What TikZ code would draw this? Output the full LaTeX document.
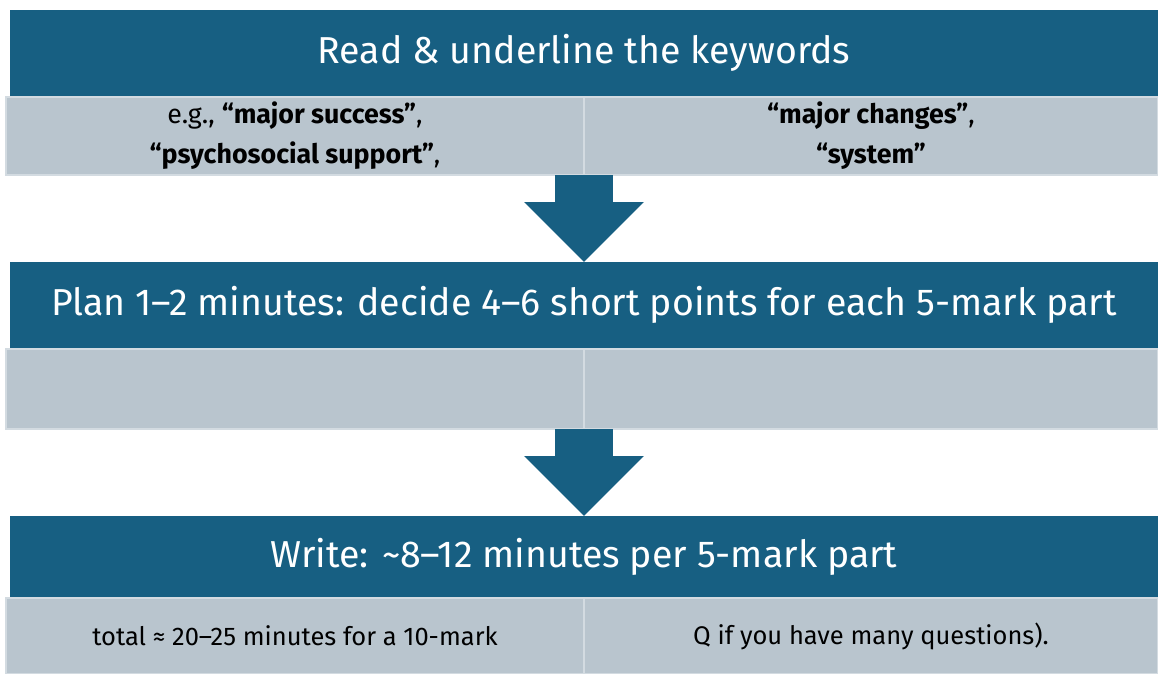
\documentclass[tikz,border=0pt]{standalone}
\usepackage{fontspec}
\setmainfont{Fira Sans}
\usetikzlibrary{arrows.meta}
\definecolor{headblue}{HTML}{175F82}
\definecolor{cellgrey}{HTML}{B9C5CE}
\definecolor{celledge}{HTML}{D3DBE1}
\tikzset{
  header/.style={fill=headblue, text=white, minimum width=1148pt,
    minimum height=86pt, inner sep=0pt, outer sep=0pt,
    font=\fontsize{37.5}{40}\selectfont},
  cell/.style={fill=cellgrey, draw=celledge, line width=1.5pt,
    minimum height=78pt, inner sep=0pt, outer sep=0pt, align=center,
    font=\fontsize{26.8}{40}\selectfont},
  cellL/.style={cell, minimum width=578pt},
  cellR/.style={cell, minimum width=574pt},
  blockarrow/.style={headblue, line width=58pt,
    -{Triangle[length=60pt,width=116pt]}}
}
\begin{document}
\begin{tikzpicture}[x=1pt,y=-1pt]
  \useasboundingbox (0,0) rectangle (1158,673);
  % step 1
  \node[header] (h1) at (584,53) {Read \& underline the keywords};
  \node[cellL] (r1a) at (295,136) {e.g., \textbf{“major success”},\\\textbf{“psychosocial support”},};
  \node[cellR] (r1b) at (871,136) {\textbf{“major changes”},\\\textbf{“system”}};
  % step 2
  \node[header] (h2) at (584,305) {Plan 1–2 minutes: decide 4–6 short points for each 5-mark part};
  \node[cellL, minimum height=80pt] (r2a) at (295,389) {};
  \node[cellR, minimum height=80pt] (r2b) at (871,389) {};
  % step 3
  \node[header, minimum height=82pt] (h3) at (584,557) {Write: \textasciitilde8–12 minutes per 5-mark part};
  \node[cellL, minimum height=76pt, font=\fontsize{25.5}{26}\selectfont] (r3a) at (295,636) {total ≈ 20–25 minutes for a 10-mark};
  \node[cellR, minimum height=76pt, font=\fontsize{25.5}{26}\selectfont] (r3b) at (871,636) {Q if you have many questions).};
  % arrows between steps
  \draw[blockarrow] (r1a.south east) -- (r1a.south east |- h2.north);
  \draw[blockarrow] (r2a.south east) -- (r2a.south east |- h3.north);
\end{tikzpicture}
\end{document}
